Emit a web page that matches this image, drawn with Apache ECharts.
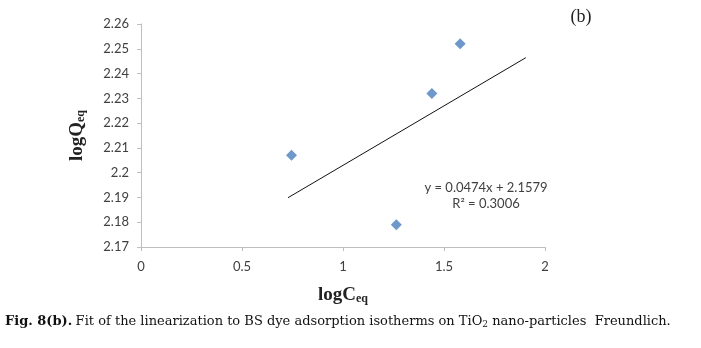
<!DOCTYPE html>
<html><head><meta charset="utf-8">
<script src="https://cdn.jsdelivr.net/npm/echarts@6/dist/echarts.min.js"></script>
<style>html,body{margin:0;padding:0;background:#fff}#c{width:701px;height:348px}</style>
</head><body><div id="c"></div>
<script>
// Data
const pointsX = [0.745, 1.264, 1.44, 1.58];
const pointsY = [2.207, 2.179, 2.232, 2.252];
const trendX = [0.728, 1.905];
const trendY = [2.1899, 2.2464];
const xTicks = [0, 0.5, 1, 1.5, 2];
const yTicks = [2.17, 2.18, 2.19, 2.2, 2.21, 2.22, 2.23, 2.24, 2.25, 2.26];
const equationText = 'y = 0.0474x + 2.1579';
const r2Text = 'R² = 0.3006';
const panelLabel = '(b)';

const chart = echarts.init(document.getElementById('c'));
const lblFont = 'Lato, "Open Sans", sans-serif';
const titleRich = {
  a: {fontFamily: 'Liberation Serif', fontWeight: 'bold', fontSize: 19, color: '#222'},
  s: {fontFamily: 'Liberation Serif', fontWeight: 'bold', fontSize: 12, color: '#222', verticalAlign: 'bottom', padding: [8,0,0,0]}
};
chart.setOption({
  animation: false,
  backgroundColor: '#fff',
  grid: {left: 141, right: 156, top: 24, bottom: 101},
  xAxis: {
    type: 'value', min: 0, max: 2, interval: 0.5,
    name: '{a|logC}{s|eq}', nameLocation: 'middle', nameGap: 38,
    nameTextStyle: {rich: titleRich},
    axisLine: {lineStyle: {color: '#bfbfbf'}},
    axisTick: {show: true, length: 4, lineStyle: {color: '#bfbfbf'}},
    splitLine: {show: false},
    axisLabel: {margin: 13, color: '#404040', fontSize: 13, fontFamily: lblFont,
      formatter: v => xTicks.includes(v) ? String(v) : ''}
  },
  yAxis: {
    type: 'value', min: 2.17, max: 2.26, interval: 0.01,
    name: '{a|logQ}{s|eq}', nameLocation: 'middle', nameGap: 54,
    nameTextStyle: {rich: titleRich},
    axisLine: {show: true, lineStyle: {color: '#bfbfbf'}},
    axisTick: {show: true, length: 4, lineStyle: {color: '#bfbfbf'}},
    splitLine: {show: false},
    axisLabel: {margin: 12, color: '#404040', fontSize: 13, fontFamily: lblFont,
      formatter: v => { const t = yTicks.find(k => Math.abs(k - v) < 1e-6); return t === undefined ? '' : String(t); }}
  },
  series: [
    {type: 'line', data: trendX.map((x, i) => [x, trendY[i]]), symbol: 'none',
     lineStyle: {color: '#111', width: 1}, silent: true, z: 1},
    {type: 'scatter', data: pointsX.map((x, i) => [x, pointsY[i]]), symbol: 'diamond',
     symbolSize: 11, itemStyle: {color: '#4a7ebb'}, z: 2}
  ],
  graphic: [
    {type: 'text', style: {x: 486, y: 188, text: equationText, font: '13px ' + lblFont, fill: '#404040', align: 'center', verticalAlign: 'middle'}},
    {type: 'text', style: {x: 486, y: 204, text: r2Text, font: '13px ' + lblFont, fill: '#404040', align: 'center', verticalAlign: 'middle'}},
    {type: 'text', style: {x: 581, y: 17, text: panelLabel, font: '18px "Liberation Serif"', fill: '#222', align: 'center', verticalAlign: 'middle'}},
    {type: 'text', style: {x: 5, y: 322, verticalAlign: 'middle',
      text: '{b|Fig. 8(b).} {n|Fit of the linearization to BS dye adsorption isotherms on TiO}{s|2}{n| nano-particles  Freundlich.}',
      rich: {
        b: {fontFamily: '"DejaVu Serif"', fontWeight: 'bold', fontSize: 13, fill: '#111'},
        n: {fontFamily: '"DejaVu Serif"', fontSize: 13, fill: '#111'},
        s: {fontFamily: '"DejaVu Serif"', fontSize: 9, fill: '#111', verticalAlign: 'bottom', padding: [6,0,0,0]}
      }}}
  ]
});
</script></body></html>
